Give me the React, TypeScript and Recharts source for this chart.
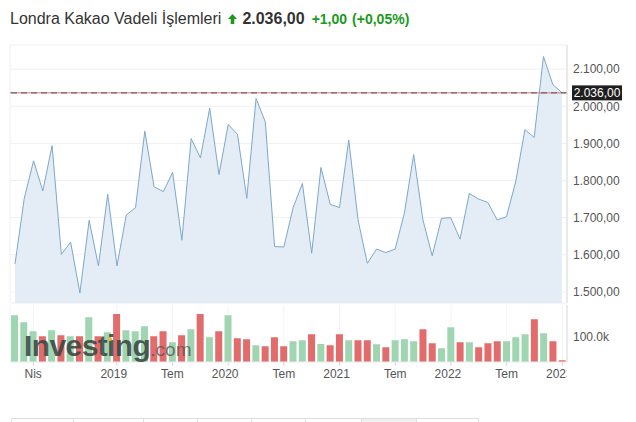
import {
  AreaChart,
  Area,
  BarChart,
  Bar,
  Cell,
  XAxis,
  YAxis,
  CartesianGrid,
  ReferenceLine,
} from 'recharts';

// monthly closes, Feb 2018 .. Jan 2023
const months = [
  '2018-02', '2018-03', '2018-04', '2018-05', '2018-06', '2018-07', '2018-08', '2018-09', '2018-10', '2018-11', '2018-12',
  '2019-01', '2019-02', '2019-03', '2019-04', '2019-05', '2019-06', '2019-07', '2019-08', '2019-09', '2019-10', '2019-11', '2019-12',
  '2020-01', '2020-02', '2020-03', '2020-04', '2020-05', '2020-06', '2020-07', '2020-08', '2020-09', '2020-10', '2020-11', '2020-12',
  '2021-01', '2021-02', '2021-03', '2021-04', '2021-05', '2021-06', '2021-07', '2021-08', '2021-09', '2021-10', '2021-11', '2021-12',
  '2022-01', '2022-02', '2022-03', '2022-04', '2022-05', '2022-06', '2022-07', '2022-08', '2022-09', '2022-10', '2022-11', '2022-12',
  '2023-01',
];

const prices = [
  1575, 1752, 1853, 1772, 1894, 1601, 1634, 1497, 1693, 1570, 1763,
  1570, 1707, 1727, 1933, 1783, 1770, 1822, 1639, 1913, 1861, 1995, 1816,
  1951, 1924, 1752, 2021, 1958, 1622, 1621, 1727, 1792, 1604, 1835, 1736,
  1727, 1909, 1694, 1577, 1615, 1606, 1615, 1712, 1870, 1694, 1597, 1698,
  1700, 1642, 1765, 1750, 1741, 1694, 1702, 1796, 1937, 1916, 2134, 2059,
  2036,
];

// volume in thousands
const volumes = [
  187, 159, 123, 103, 127, 107, 103, 103, 179, 103, 119,
  192, 127, 123, 143, 103, 123, 79, 107, 131, 192, 99, 123,
  187, 95, 91, 67, 63, 99, 63, 83, 87, 111, 72, 67,
  111, 87, 87, 87, 71, 59, 87, 91, 83, 131, 75, 55,
  139, 79, 79, 59, 75, 83, 83, 99, 111, 171, 115, 83,
  7,
];

const xTickMonths = ['2018-04', '2019-01', '2019-07', '2020-01', '2020-07', '2021-01', '2021-07', '2022-01', '2022-07', '2023-01'];
const xTickLabels = ['Nis', '2019', 'Tem', '2020', 'Tem', '2021', 'Tem', '2022', 'Tem', '2023'];
const priceTicks = [1500, 1600, 1700, 1800, 1900, 2000, 2100];
const volumeTicks = [100];
const lastPrice = 2036;

const data = months.map((m, i) => ({
  month: m,
  price: prices[i],
  volume: volumes[i],
  up: i === 0 || prices[i] >= prices[i - 1],
}));

const FONT = 'Arial, "Liberation Sans", sans-serif';
const fmtPrice = (v: number) =>
  v.toFixed(2).replace('.', ',').replace(/\B(?=(\d{3})+(?!\d))/, '.');

const PriceTag = (props: any) => {
  const vb = props.viewBox || {};
  const x = (vb.x || 0) + (vb.width || 0) + 5;
  const y = vb.y || 0;
  return (
    <g>
      <rect x={x} y={y - 7.5} width={50} height={15} fill="#1e1e1e" />
      <text x={x + 25} y={y} dy="0.36em" textAnchor="middle" fill="#fff" fontSize={12} fontFamily={FONT}>
        {fmtPrice(lastPrice)}
      </text>
    </g>
  );
};

const MonthTick = (props: any) => {
  const { x, y, payload } = props;
  const idx = xTickMonths.indexOf(payload.value);
  const label = idx >= 0 ? xTickLabels[idx] : '';
  const isYear = /^\d{4}$/.test(label);
  return (
    <g>
      <defs>
        <clipPath id="xtick-clip">
          <rect x={0} y={0} width={567} height={422} />
        </clipPath>
      </defs>
      <text
        x={x + (isYear ? -3 : 0)}
        y={y}
        dy="0.71em"
        textAnchor="middle"
        fill="#555"
        fontSize={12}
        fontFamily={FONT}
        clipPath="url(#xtick-clip)"
      >
        {label}
      </text>
    </g>
  );
};

export default function App() {
  return (
    <div style={{ position: 'absolute', top: 0, left: 0, width: 636, height: 422, background: '#fff', fontFamily: FONT, overflow: 'hidden' }}>
      {/* header */}
      <div style={{ position: 'absolute', top: 9, left: 10, whiteSpace: 'nowrap', lineHeight: '20px', display: 'flex', alignItems: 'center' }}>
        <span style={{ fontSize: 16, color: '#333' }}>Londra Kakao Vadeli İşlemleri</span>
        <svg width={9} height={10} style={{ marginLeft: 7, marginRight: 5 }}>
          <path d="M4.5 0 L9 5 L6.3 5 L6.3 10 L2.7 10 L2.7 5 L0 5 Z" fill="#1a9a1a" />
        </svg>
        <span style={{ fontSize: 16, fontWeight: 'bold', color: '#333' }}>2.036,00</span>
        <span style={{ fontSize: 14, fontWeight: 'bold', color: '#1a9a1a', marginLeft: 7 }}>+1,00</span>
        <span style={{ fontSize: 14, fontWeight: 'bold', color: '#1a9a1a', marginLeft: 5 }}>(+0,05%)</span>
      </div>

      {/* price panel */}
      <div style={{ position: 'absolute', top: 0, left: 0 }}>
        <AreaChart width={636} height={304} data={data} margin={{ top: 45, right: 0, bottom: 1, left: 10 }}>
          <CartesianGrid stroke="#f0f0f0" />
          <XAxis
            dataKey="month"
            ticks={xTickMonths}
            interval={0}
            tick={false}
            tickLine={false}
            height={0}
            padding={{ left: 5, right: 5 }}
            axisLine={{ stroke: '#c8c8c8' }}
          />
          <YAxis
            orientation="right"
            width={69}
            domain={[1470, 2165]}
            allowDataOverflow
            ticks={priceTicks}
            tickFormatter={fmtPrice}
            tickLine={false}
            tickSize={0}
            tickMargin={6}
            axisLine={{ stroke: '#dcdcdc' }}
            tick={{ fill: '#555', fontSize: 12, fontFamily: FONT, textAnchor: 'start' }}
          />
          <Area
            type="linear"
            dataKey="price"
            stroke="#7ba7cc"
            strokeWidth={1}
            fill="#e4edf5"
            fillOpacity={1}
            isAnimationActive={false}
          />
          <ReferenceLine y={lastPrice} stroke="#e07070" strokeWidth={1} />
          <ReferenceLine y={lastPrice} stroke="#555" strokeWidth={1} strokeDasharray="6 4" label={<PriceTag />} />
        </AreaChart>
      </div>

      {/* volume panel */}
      <div style={{ position: 'absolute', top: 300, left: 0 }}>
        <BarChart width={636} height={90} data={data} margin={{ top: 5, right: 0, bottom: 0, left: 10 }}>
          <CartesianGrid stroke="#f3f3f3" horizontal={false} />
          <XAxis
            dataKey="month"
            ticks={xTickMonths}
            interval={0}
            height={28}
            tickSize={4}
            tickMargin={3}
            tickLine={{ stroke: '#d8d8d8' }}
            axisLine={{ stroke: '#ececec' }}
            tick={<MonthTick />}
          />
          <YAxis
            orientation="right"
            width={69}
            domain={[0, 228]}
            allowDataOverflow
            ticks={volumeTicks}
            tickFormatter={(v: number) => `${v.toFixed(1)}k`}
            tickLine={false}
            tickSize={0}
            tickMargin={6}
            axisLine={{ stroke: '#dcdcdc' }}
            tick={{ fill: '#555', fontSize: 12, fontFamily: FONT, textAnchor: 'start' }}
          />
          <Bar dataKey="volume" barSize={7} isAnimationActive={false}>
            {data.map((d) => (
              <Cell key={d.month} fill={d.up ? '#9fd5b1' : '#e26b6b'} />
            ))}
          </Bar>
        </BarChart>
      </div>

      {/* watermark */}
      <div style={{ position: 'absolute', left: 24, top: 329, whiteSpace: 'nowrap', pointerEvents: 'none' }}>
        <span style={{ fontSize: 30, fontWeight: 'bold', color: 'rgba(58,70,64,0.88)', letterSpacing: -0.6 }}>Investing</span>
        <span style={{ fontSize: 19, color: 'rgba(80,80,80,0.75)' }}>.com</span>
      </div>
      <div style={{ position: 'absolute', left: 108, top: 337, width: 4, height: 4, borderRadius: 2, background: '#e8b73a' }} />

      {/* bottom tabs */}
      <div style={{ position: 'absolute', top: 418, left: 11, display: 'flex', height: 6 }}>
        {[62, 70, 54, 54, 54, 56, 55, 63].map((w, i) => (
          <div
            key={i}
            style={{
              width: w,
              height: 6,
              boxSizing: 'border-box',
              borderTop: '1px solid #ddd',
              borderLeft: '1px solid #ddd',
              borderRight: i === 7 ? '1px solid #ddd' : undefined,
              background: i === 6 ? '#f1f1f1' : '#fff',
            }}
          />
        ))}
      </div>
    </div>
  );
}
